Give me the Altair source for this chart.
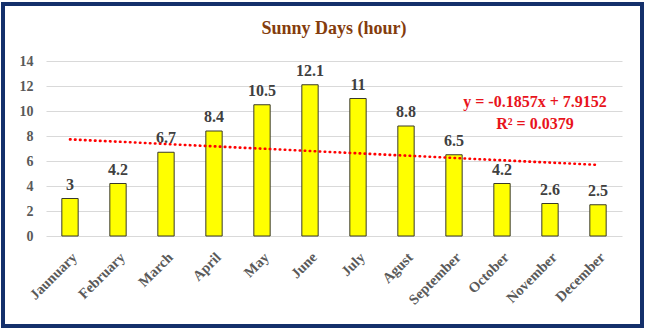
import altair as alt
import pandas as pd

months = ["Jaunuary", "February", "March", "April", "May", "June", "July",
          "Agust", "September", "October", "November", "December"]
hours = [3, 4.2, 6.7, 8.4, 10.5, 12.1, 11, 8.8, 6.5, 4.2, 2.6, 2.5]
month_index = list(range(1, 13))
equation_lines = ["y = -0.1857x + 7.9152", "R² = 0.0379"]
equation_y = [10.7, 9.0]
y_ticks = [0, 2, 4, 6, 8, 10, 12, 14]

df = pd.DataFrame({"month": months, "hours": hours, "idx": month_index})
eq_df = pd.DataFrame({"text": equation_lines, "yv": equation_y})

FONT = "Liberation Serif"
W, H = 576, 175

xscale = alt.Scale(domain=months, paddingInner=0.66, paddingOuter=0.33)
yscale = alt.Scale(domain=[0, 14])
y_axis = alt.Axis(values=y_ticks, labelFont=FONT, labelFontSize=14,
                  labelFontWeight="bold", labelColor="#595959",
                  ticks=False, domain=False, labelPadding=13,
                  labelOverlap=False, tickCount=8,
                  grid=True, gridColor="#D9D9D9", gridWidth=1)

base = alt.Chart(df)

frame = alt.Chart(pd.DataFrame({"a": [0]})).mark_rect(
    fill=None, stroke="#14306B", strokeWidth=4
).encode(
    x=alt.value(-43), x2=alt.value(596), y=alt.value(-57), y2=alt.value(265)
)

bars = base.mark_bar(color="#FFFF00", stroke="#3A3A2A", strokeWidth=1).encode(
    x=alt.X("month:N", scale=xscale, sort=months, title=None,
            axis=alt.Axis(labelAngle=-45, labelFont=FONT, labelFontSize=14.5,
                          labelFontWeight="bold", labelColor="#595959",
                          ticks=False, domain=False, labelPadding=14)),
    y=alt.Y("hours:Q", scale=yscale, title=None, axis=y_axis),
)

labels = base.mark_text(font=FONT, fontSize=16, fontWeight="bold",
                        color="#404040", baseline="bottom", dy=-6).encode(
    x=alt.X("month:N", scale=xscale, sort=months, axis=None),
    y=alt.Y("hours:Q", scale=yscale, title=None, axis=y_axis),
    text=alt.Text("hours:Q"),
)

trend = base.transform_regression("idx", "hours", method="linear").mark_line(
    color="#FF0000", strokeWidth=2.6, strokeDash=[0.5, 4.5], strokeCap="round"
).encode(
    x=alt.X("idx:Q", scale=alt.Scale(domain=[0.5, 12.5]), axis=None),
    y=alt.Y("hours:Q", scale=yscale, title=None, axis=y_axis),
)

eq = alt.Chart(eq_df).mark_text(font=FONT, fontSize=16, fontWeight="bold",
                                color="#E8141C", align="center").encode(
    x=alt.value(489),
    y=alt.Y("yv:Q", scale=yscale, title=None, axis=y_axis),
    text="text:N",
)

chart = alt.layer(bars, labels, eq, trend, frame).resolve_scale(
    x="independent"
).properties(
    width=W, height=H,
    title=alt.TitleParams("Sunny Days (hour)", font=FONT, fontSize=18,
                          fontWeight="bold", color="#843C0C", anchor="middle",
                          offset=-36, frame="group"),
    autosize=alt.AutoSizeParams(type="none"),
    padding={"left": 46, "top": 61, "right": 25, "bottom": 94},
    background="white",
).configure_view(stroke=None)

chart.save("out.html", embed_options={"renderer": "svg", "actions": False})
